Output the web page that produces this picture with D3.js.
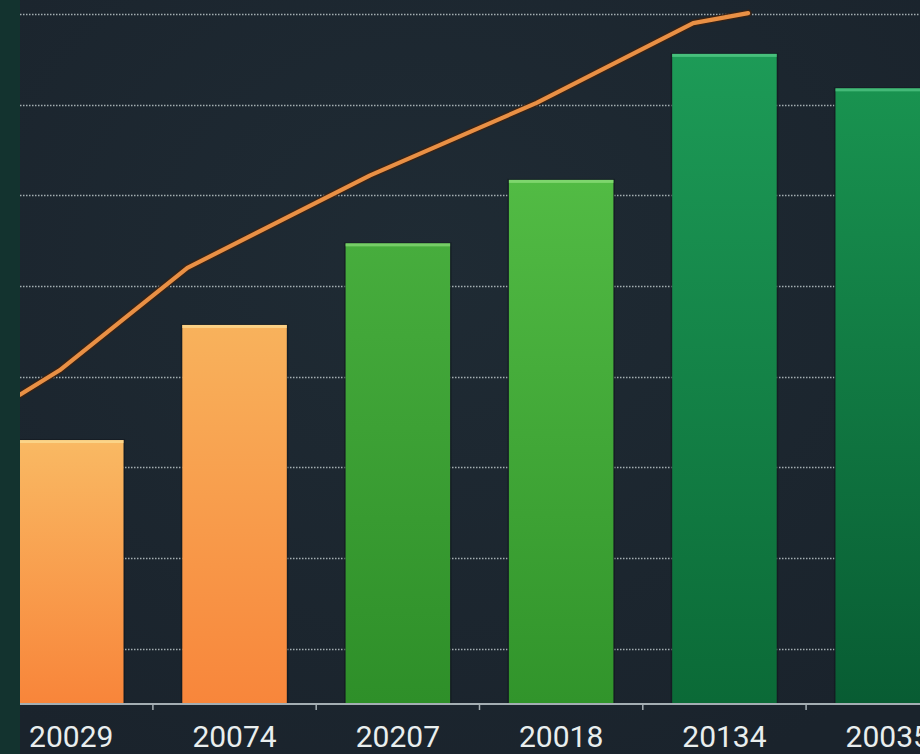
<!DOCTYPE html>
<html>
<head>
<meta charset="utf-8">
<script src="https://cdn.jsdelivr.net/npm/d3@7"></script>
<style>
  html, body { margin: 0; padding: 0; background: #13332f; }
  svg { display: block; }
</style>
</head>
<body>
<div id="mainContainer"></div>
<script>
// chart data
var categories = ["20029", "20074", "20207", "20018", "20134", "20035"];
var barValues = [33.0, 45.7, 54.7, 61.7, 75.6, 71.8];
var gridTicks = [10, 20, 30, 40, 50, 60, 70, 80];
// trend line: x as percent of the plot width, y in the same units as the bars
var lineX = [0, 4.4, 18.6, 38.9, 57.4, 74.8, 80.9];
var lineY = [38.0, 40.7, 52.0, 62.2, 70.2, 79.0, 80.1];

// bar colours, top -> bottom of each gradient
var barTop = ["#f9b963", "#f8b25c", "#47ad3d", "#52bb44", "#1d9b57", "#199350"];
var barBottom = ["#f8853a", "#f8863b", "#2e8f29", "#31942b", "#0b6a37", "#085c33"];
var barEdge = ["#fcd88e", "#fcd68c", "#7fd46f", "#86da74", "#4fc783", "#4cc07f"];

var width = 920, height = 754;
var plotLeft = 20, baseY = 703;

var svg = d3.select('#mainContainer').append('svg')
    .attr('width', width)
    .attr('height', height);

var defs = svg.append('defs');
defs.append('clipPath').attr('id', 'plotClip')
    .append('rect')
    .attr('x', plotLeft).attr('y', 0)
    .attr('width', width - plotLeft).attr('height', height);

categories.forEach(function(d, i){
    var gr = defs.append('linearGradient')
        .attr('id', 'barGrad' + i)
        .attr('x1', 0).attr('y1', 0).attr('x2', 0).attr('y2', 1);
    gr.append('stop').attr('offset', '0%').attr('stop-color', barTop[i]);
    gr.append('stop').attr('offset', '100%').attr('stop-color', barBottom[i]);
});

var bgGrad = defs.append('radialGradient').attr('id', 'bgGrad')
    .attr('cx', '45%').attr('cy', '35%').attr('r', '75%');
bgGrad.append('stop').attr('offset', '0%').attr('stop-color', '#1f2b34');
bgGrad.append('stop').attr('offset', '100%').attr('stop-color', '#1a232c');

// left strip + plot background
svg.append('rect')
    .attr('x', 0).attr('y', 0)
    .attr('width', width).attr('height', height)
    .attr('fill', '#13332f');
svg.append('rect')
    .attr('x', plotLeft).attr('y', 0)
    .attr('width', width - plotLeft).attr('height', height)
    .attr('fill', 'url(#bgGrad)');

var xscale = d3.scaleBand()
    .domain(categories)
    .range([19, 940])
    .paddingInner(0.36)
    .paddingOuter(0);

var yscale = d3.scaleLinear()
    .domain([4, 80])
    .range([baseY, 14]);

var xline = d3.scaleLinear()
    .domain([0, 100])
    .range([plotLeft, width]);

var g = svg.append('g').attr('clip-path', 'url(#plotClip)');

// dotted grid
g.append('g')
    .selectAll('line')
    .data(gridTicks)
    .enter().append('line')
    .attr('x1', plotLeft)
    .attr('x2', width)
    .attr('y1', function(d) { return Math.round(yscale(d)) + 0.5; })
    .attr('y2', function(d) { return Math.round(yscale(d)) + 0.5; })
    .attr('stroke', '#b3bcc0')
    .attr('stroke-opacity', 0.9)
    .attr('stroke-width', 1.3)
    .attr('stroke-dasharray', '1.5,1.5');

// bars
var bars = g.append('g')
    .selectAll('g')
    .data(categories)
    .enter().append('g');

bars.append('rect')
    .attr('x', function(d) { return xscale(d) - 1.5; })
    .attr('y', function(d, i) { return yscale(barValues[i]) - 1; })
    .attr('width', xscale.bandwidth() + 3)
    .attr('height', function(d, i) { return baseY - yscale(barValues[i]) + 1; })
    .attr('fill', '#10161b')
    .attr('opacity', 0.55);

bars.append('rect')
    .attr('x', function(d) { return xscale(d); })
    .attr('y', function(d, i) { return yscale(barValues[i]); })
    .attr('width', xscale.bandwidth())
    .attr('height', function(d, i) { return baseY - yscale(barValues[i]); })
    .attr('fill', function(d, i) { return 'url(#barGrad' + i + ')'; });

bars.append('rect')
    .attr('x', function(d) { return xscale(d); })
    .attr('y', function(d, i) { return yscale(barValues[i]); })
    .attr('width', xscale.bandwidth())
    .attr('height', 3)
    .attr('fill', function(d, i) { return barEdge[i]; })
    .attr('opacity', 0.85);

// trend line
var linePts = lineX.map(function(d, i) { return [xline(d), yscale(lineY[i])]; });
var lineGen = d3.line().curve(d3.curveLinear);

g.append('path')
    .attr('d', lineGen(linePts))
    .attr('fill', 'none')
    .attr('stroke', '#3b2213')
    .attr('stroke-width', 7)
    .attr('stroke-linejoin', 'round')
    .attr('stroke-linecap', 'round')
    .attr('opacity', 0.9);

g.append('path')
    .attr('d', lineGen(linePts))
    .attr('fill', 'none')
    .attr('stroke', '#e99045')
    .attr('stroke-width', 4.2)
    .attr('stroke-linejoin', 'round')
    .attr('stroke-linecap', 'round');

// x axis
g.append('line')
    .attr('x1', plotLeft).attr('x2', width)
    .attr('y1', baseY + 1).attr('y2', baseY + 1)
    .attr('stroke', '#a4aeb3')
    .attr('stroke-width', 2);

// small ticks between the bars
var gapTicks = categories.slice(1).map(function(d) {
    return xscale(d) - xscale.step() * xscale.paddingInner() / 2;
});
g.append('g')
    .selectAll('line')
    .data(gapTicks)
    .enter().append('line')
    .attr('x1', function(d) { return d; })
    .attr('x2', function(d) { return d; })
    .attr('y1', baseY + 1)
    .attr('y2', baseY + 7)
    .attr('stroke', '#a4aeb3')
    .attr('stroke-width', 1.5);

g.append('g')
    .selectAll('text')
    .data(categories)
    .enter().append('text')
    .attr('x', function(d) { return xscale(d) + xscale.bandwidth() / 2; })
    .attr('y', 747)
    .attr('text-anchor', 'middle')
    .attr('fill', '#e9eeee')
    .attr('font-family', 'Roboto, "Noto Sans", sans-serif')
    .attr('font-size', '30px')
    .text(function(d) { return d; });
</script>
</body>
</html>
